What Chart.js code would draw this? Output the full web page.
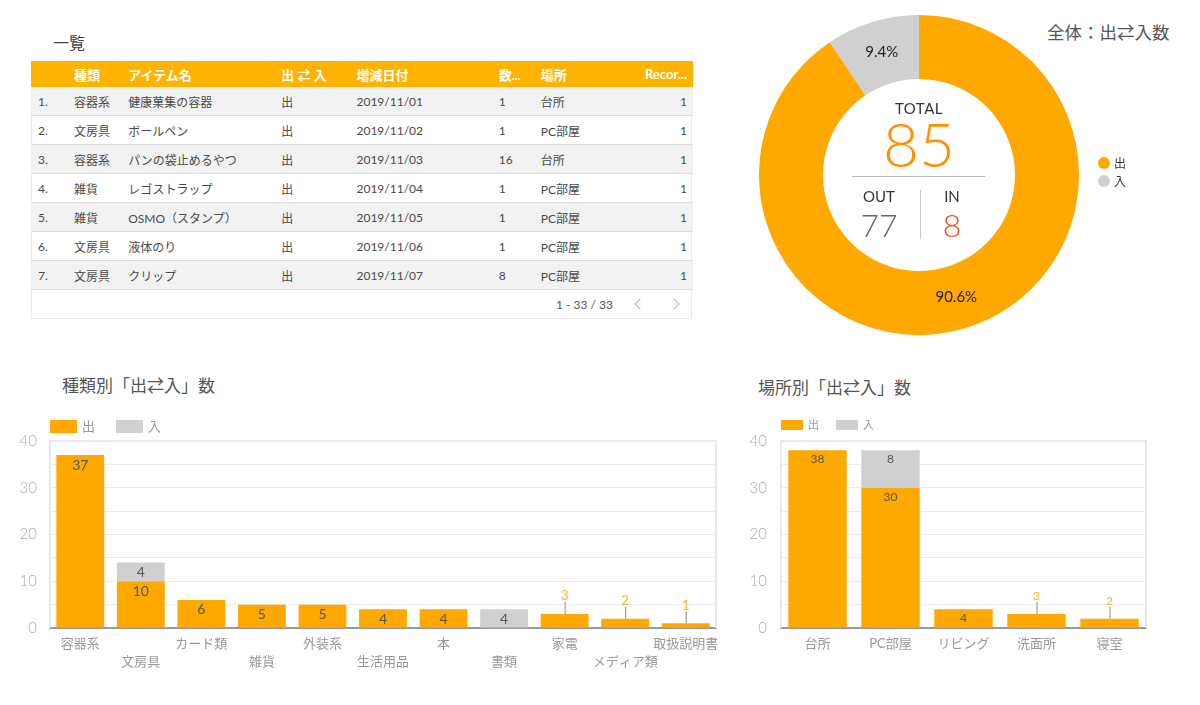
<!DOCTYPE html>
<html><head><meta charset="utf-8">
<script src="https://cdn.jsdelivr.net/npm/chart.js@4.4.0/dist/chart.umd.min.js"></script>
<style>
body{margin:0;width:1200px;height:705px;background:#fff;font-family:Lato,"Noto Sans CJK JP",sans-serif;position:relative;overflow:hidden;}
.abs{position:absolute;}
.title{color:#555;font-size:17px;white-space:nowrap;}
table{border-collapse:collapse;table-layout:fixed;width:662px;font-size:12px;color:#4a4a4a;}
th{background:#FFB300;color:#fff;font-weight:700;font-size:13px;height:26px;padding:0;text-align:left;white-space:nowrap;overflow:hidden;}
td{height:28px;padding:0;border-bottom:1px solid #dcdcdc;white-space:nowrap;overflow:hidden;}
tr.g td{background:#f2f2f2;}
.r{text-align:right;padding-right:6px;}
.c1{padding-left:7px;}
.chev{position:absolute;width:7px;height:7px;border-left:1.3px solid #bbb;border-bottom:1.3px solid #bbb;}
</style></head><body>
<div class="abs title" style="left:53px;top:30px;font-size:16px;color:#444">一覧</div>
<div class="abs" style="left:31px;top:61px;width:661px;height:258px;border:1px solid #eaeaea;border-top:none;box-sizing:border-box;"></div>
<div class="abs" style="left:31px;top:61px;"><table id="tbl"></table></div>
<div class="abs" style="left:556px;top:297px;font-size:12px;color:#555;">1 - 33 / 33</div>
<div class="chev" style="left:636px;top:300px;transform:rotate(45deg);"></div>
<div class="chev" style="left:670px;top:300px;transform:rotate(-135deg);"></div>

<div class="abs title" style="left:1047px;top:19px;font-size:17.5px;">全体：出⇄入数</div>
<div class="abs" style="left:759px;top:15px;width:420px;height:320px;"><canvas id="donut"></canvas></div>
<div class="abs" style="left:869px;top:99px;width:100px;text-align:center;font-size:15px;color:#333;letter-spacing:0.5px;">TOTAL</div>
<div class="abs" style="left:819px;top:106px;width:200px;text-align:center;font-size:62px;font-weight:300;color:#FF9000;">85</div>
<div class="abs" style="left:852px;top:176px;width:133px;height:1px;background:#bbb;"></div>
<div class="abs" style="left:920px;top:190px;width:1px;height:49px;background:#ccc;"></div>
<div class="abs" style="left:840px;top:187px;width:78px;text-align:center;font-size:15px;color:#333;">OUT</div>
<div class="abs" style="left:840px;top:205px;width:78px;text-align:center;font-size:32px;font-weight:300;color:#666;">77</div>
<div class="abs" style="left:922px;top:187px;width:60px;text-align:center;font-size:15px;color:#333;">IN</div>
<div class="abs" style="left:922px;top:205px;width:60px;text-align:center;font-size:32px;font-weight:300;color:#E8502A;">8</div>

<div class="abs title" style="left:62px;top:372px;">種類別「出⇄入」数</div>
<div class="abs" style="left:0px;top:400px;width:730px;height:290px;"><canvas id="bar1"></canvas></div>
<div class="abs title" style="left:758px;top:374px;">場所別「出⇄入」数</div>
<div class="abs" style="left:740px;top:400px;width:440px;height:290px;"><canvas id="bar2"></canvas></div>

<script>
// ---- table data ----
const tableHeaders = ['', '種類', 'アイテム名', '出 ⇄ 入', '増減日付', '数...', '場所', 'Recor...'];
const rowTypes = ['容器系', '文房具', '容器系', '雑貨', '雑貨', '文房具', '文房具'];
const rowItems = ['健康菓集の容器', 'ボールペン', 'パンの袋止めるやつ', 'レゴストラップ', 'OSMO（スタンプ）', '液体のり', 'クリップ'];
const rowDirections = ['出', '出', '出', '出', '出', '出', '出'];
const rowDates = ['2019/11/01', '2019/11/02', '2019/11/03', '2019/11/04', '2019/11/05', '2019/11/06', '2019/11/07'];
const rowCounts = [1, 1, 16, 1, 1, 1, 8];
const rowPlaces = ['台所', 'PC部屋', '台所', 'PC部屋', 'PC部屋', 'PC部屋', 'PC部屋'];
const rowRecords = [1, 1, 1, 1, 1, 1, 1];

// ---- chart data ----
const donutLabels = ['出', '入'];
const donutValues = [77, 8];
const typeLabels = ['容器系', '文房具', 'カード類', '雑貨', '外装系', '生活用品', '本', '書類', '家電', 'メディア類', '取扱説明書'];
const typeOut = [37, 10, 6, 5, 5, 4, 4, 0, 3, 2, 1];
const typeIn = [0, 4, 0, 0, 0, 0, 0, 4, 0, 0, 0];
const placeLabels = ['台所', 'PC部屋', 'リビング', '洗面所', '寝室'];
const placeOut = [38, 30, 4, 3, 2];
const placeIn = [0, 8, 0, 0, 0];
const yTickLabels = [0, 10, 20, 30, 40];

const ORANGE = '#FFA800', GRAY = '#D0D0D0';
const FONT = 'Lato, "Noto Sans CJK JP", sans-serif';

// build table
(function(){
  const widths = [43, 54, 153, 75, 142, 42, 80, 72];
  let h = '<colgroup>' + widths.map(w => '<col style="width:' + w + 'px">').join('') + '</colgroup>';
  h += '<tr>' + tableHeaders.map((t, i) => '<th class="' + (i === 7 ? 'r' : (i === 0 ? 'c1' : '')) + '">' + t + '</th>').join('') + '</tr>';
  for (let i = 0; i < rowTypes.length; i++) {
    h += '<tr class="' + (i % 2 === 0 ? 'g' : '') + '"><td class="c1">' + (i + 1) + '.</td><td>' + rowTypes[i] + '</td><td>' + rowItems[i] +
      '</td><td>' + rowDirections[i] + '</td><td>' + rowDates[i] + '</td><td>' + rowCounts[i] + '</td><td>' + rowPlaces[i] +
      '</td><td class="r">' + rowRecords[i] + '</td></tr>';
  }
  document.getElementById('tbl').innerHTML = h;
})();

// donut
const donutDeco = {
  id: 'donutDeco',
  afterDatasetsDraw(chart) {
    const ctx = chart.ctx;
    const meta = chart.getDatasetMeta(0);
    const total = donutValues.reduce((a, b) => a + b, 0);
    ctx.save();
    ctx.font = '15px ' + FONT; ctx.fillStyle = '#222'; ctx.textAlign = 'center'; ctx.textBaseline = 'middle';
    meta.data.forEach((arc, i) => {
      const p = arc.getProps(['x', 'y', 'startAngle', 'endAngle', 'innerRadius', 'outerRadius'], true);
      const a = (p.startAngle + p.endAngle) / 2, r = (p.innerRadius + p.outerRadius) / 2;
      const pct = (donutValues[i] / total * 100).toFixed(1) + '%';
      ctx.fillText(pct, p.x + Math.cos(a) * r, p.y + Math.sin(a) * r);
    });
    // legend
    const lx = chart.chartArea.right + 25;
    donutLabels.forEach((l, i) => {
      const y = 148 + i * 18;
      ctx.beginPath(); ctx.fillStyle = i === 0 ? ORANGE : GRAY; ctx.arc(lx, y, 6, 0, Math.PI * 2); ctx.fill();
      ctx.fillStyle = '#333'; ctx.textAlign = 'left'; ctx.font = '12px ' + FONT;
      ctx.fillText(l, lx + 10, y + 1);
    });
    ctx.restore();
  }
};
new Chart(document.getElementById('donut'), {
  type: 'doughnut',
  data: { labels: donutLabels, datasets: [{ data: donutValues, backgroundColor: [ORANGE, GRAY], borderWidth: 0, hoverOffset: 0 }] },
  options: {
    responsive: true, maintainAspectRatio: false, animation: false, cutout: '60%',
    layout: { padding: { right: 100 } },
    plugins: { legend: { display: false }, tooltip: { enabled: false } }
  },
  plugins: [donutDeco]
});

// bar charts
const barDeco = {
  id: 'barDeco',
  beforeDatasetsDraw(chart) {
    const { ctx, chartArea: a } = chart;
    ctx.save(); ctx.strokeStyle = '#e8e8e8'; ctx.lineWidth = 2;
    ctx.beginPath(); ctx.moveTo(a.left, a.bottom); ctx.lineTo(a.left, a.top); ctx.lineTo(a.right, a.top); ctx.lineTo(a.right, a.bottom); ctx.stroke();
    ctx.restore();
  },
  afterDatasetsDraw(chart, args, opts) {
    const { ctx, chartArea: a } = chart;
    ctx.save();
    ctx.textAlign = 'center'; ctx.textBaseline = 'middle';
    chart.data.datasets.forEach((ds, di) => {
      const meta = chart.getDatasetMeta(di);
      meta.data.forEach((bar, i) => {
        const v = ds.data[i]; if (!v) return;
        const h = bar.base - bar.y;
        ctx.font = opts.labelSize + 'px ' + FONT;
        if (h >= 16) {
          ctx.fillStyle = '#555'; ctx.fillText(v, bar.x, bar.y + opts.labelOffset);
        } else {
          ctx.strokeStyle = '#888'; ctx.lineWidth = 1;
          ctx.beginPath(); ctx.moveTo(bar.x + 0.5, bar.y); ctx.lineTo(bar.x + 0.5, bar.y - 12); ctx.stroke();
          ctx.fillStyle = '#FFB22E'; ctx.fillText(v, bar.x, bar.y - 18);
        }
      });
    });
    // legend
    let x = a.left;
    const y = a.top - 21;
    chart.data.datasets.forEach((ds) => {
      ctx.fillStyle = ds.backgroundColor; ctx.fillRect(x, y, opts.boxW, opts.boxH);
      ctx.fillStyle = '#999'; ctx.textAlign = 'left'; ctx.font = opts.legendSize + 'px ' + FONT;
      ctx.fillText(ds.label, x + opts.boxW + 5, y + opts.boxH / 2);
      x += opts.itemW;
    });
    ctx.restore();
  }
};

function makeBar(id, labels, out, inn, cfg) {
  return new Chart(document.getElementById(id), {
    type: 'bar',
    data: {
      labels: labels,
      datasets: [
        { label: '出', data: out, backgroundColor: ORANGE, barPercentage: cfg.barPct, categoryPercentage: 1 },
        { label: '入', data: inn, backgroundColor: GRAY, barPercentage: cfg.barPct, categoryPercentage: 1 }
      ]
    },
    options: {
      responsive: true, maintainAspectRatio: false, animation: false,
      layout: { padding: { top: 41, right: cfg.padRight, left: 0, bottom: 0 } },
      plugins: {
        legend: { display: false }, tooltip: { enabled: false },
        barDeco: cfg.deco
      },
      scales: {
        x: {
          stacked: true,
          grid: { display: false, drawTicks: false },
          border: { color: '#999', width: 2 },
          ticks: { color: '#999', font: { size: 13, family: FONT, lineHeight: 1.4 }, maxRotation: 0, autoSkip: false, padding: 7 },
          afterFit: s => { s.height = 62; }
        },
        y: {
          stacked: true, min: 0, max: 40,
          grid: { color: '#ececec', drawTicks: false },
          border: { display: false },
          ticks: {
            stepSize: 5, padding: cfg.tickPad, color: '#aaa', font: { size: 15, family: FONT, weight: 300 },
            callback: v => yTickLabels.includes(v) ? v : ''
          },
          afterFit: s => { s.width = cfg.yWidth; }
        }
      }
    },
    plugins: [barDeco]
  });
}

makeBar('bar1', typeLabels.map((l, i) => i % 2 ? ['', l] : l), typeOut, typeIn,
  { barPct: 0.79, padRight: 14, yWidth: 50, tickPad: 13,
    deco: { labelSize: 14, labelOffset: 10, boxW: 27, boxH: 13, legendSize: 13, itemW: 66 } });
makeBar('bar2', placeLabels, placeOut, placeIn,
  { barPct: 0.8, padRight: 34, yWidth: 41, tickPad: 14,
    deco: { labelSize: 12, labelOffset: 9, boxW: 22, boxH: 10, legendSize: 11, itemW: 55 } });
</script>
</body></html>
